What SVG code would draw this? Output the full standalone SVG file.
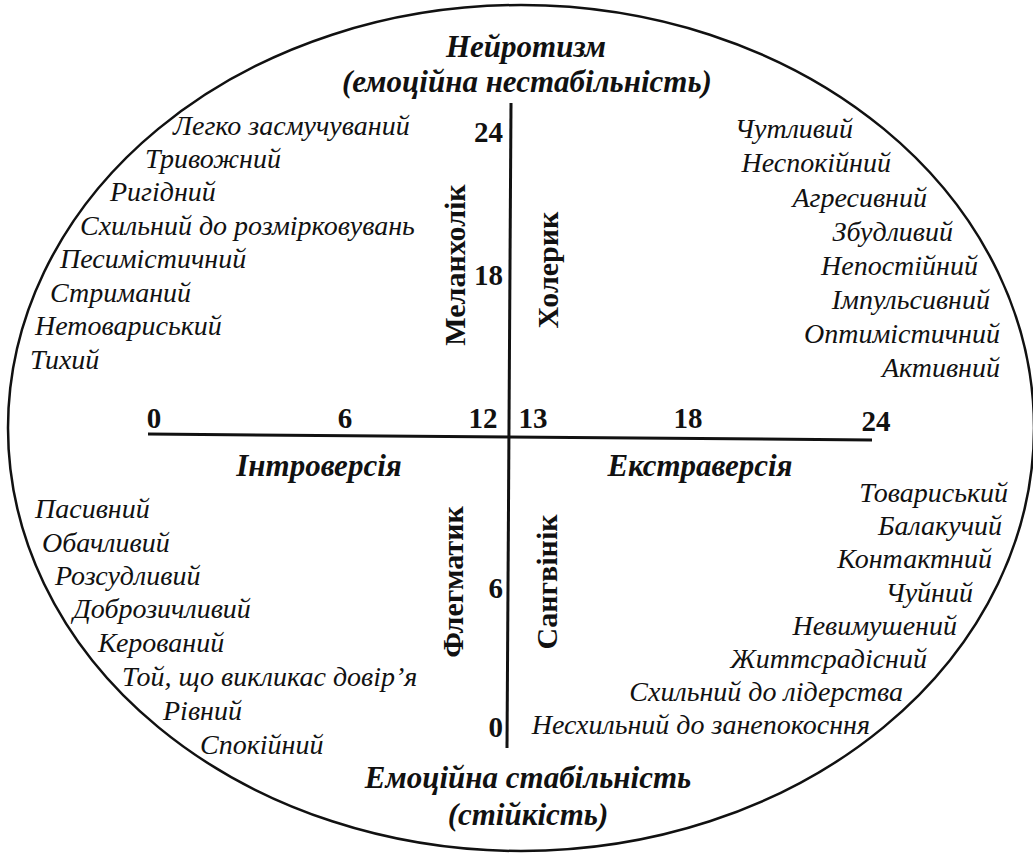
<svg xmlns="http://www.w3.org/2000/svg" width="1033" height="854" viewBox="0 0 1033 854">
<style>
.t{font-family:"Liberation Serif","Times New Roman",serif;font-style:italic;font-size:28px;fill:#111}
.h{font-family:"Liberation Serif","Times New Roman",serif;font-style:italic;font-weight:bold;font-size:31px;fill:#111;text-anchor:middle}
.n{font-family:"Liberation Serif","Times New Roman",serif;font-weight:bold;font-size:29px;fill:#111;text-anchor:middle}
.v{font-family:"Liberation Serif","Times New Roman",serif;font-weight:bold;font-size:30px;fill:#111;text-anchor:middle}
.e{text-anchor:end}
.ln{stroke:#111;stroke-width:3;fill:none}
</style>
<rect width="1033" height="854" fill="#fff"/>
<g id="connectors">
<ellipse cx="521" cy="428" rx="513" ry="423" fill="none" stroke="#111" stroke-width="2.5"/>
<line class="ln" x1="148" y1="434" x2="872" y2="440"/>
<line class="ln" x1="511" y1="103" x2="507" y2="748"/>
</g>
<g id="titles">
<text class="h" x="526" y="57">Нейротизм</text>
<text class="h" x="527" y="92">(емоційна нестабільність)</text>
<text class="h" x="528" y="788">Емоційна стабільність</text>
<text class="h" x="528" y="825">(стійкість)</text>
<text class="h" x="319" y="476">Інтроверсія</text>
<text class="h" x="700" y="476">Екстраверсія</text>
</g>
<g id="scale">
<text class="n" x="154" y="428">0</text>
<text class="n" x="345" y="428">6</text>
<text class="n" x="483" y="428">12</text>
<text class="n" x="533" y="428">13</text>
<text class="n" x="688" y="428">18</text>
<text class="n" x="876" y="431">24</text>
<text class="n e" x="503" y="142">24</text>
<text class="n e" x="503" y="285">18</text>
<text class="n e" x="503" y="598">6</text>
<text class="n e" x="503" y="737">0</text>
</g>
<g id="types">
<text class="v" transform="translate(465,265) rotate(-90)">Меланхолік</text>
<text class="v" transform="translate(558,270) rotate(-90)">Холерик</text>
<text class="v" transform="translate(463,582) rotate(-90)">Флегматик</text>
<text class="v" transform="translate(557,582) rotate(-90)">Сангвінік</text>
</g>
<g id="melancholic">
<text class="t" x="173" y="135">Легко засмучуваний</text>
<text class="t" x="145" y="168">Тривожний</text>
<text class="t" x="110" y="201">Ригідний</text>
<text class="t" x="80" y="235">Схильний до розмірковувань</text>
<text class="t" x="60" y="268">Песимістичний</text>
<text class="t" x="50" y="302">Стриманий</text>
<text class="t" x="35" y="335">Нетовариський</text>
<text class="t" x="30" y="369">Тихий</text>
</g>
<g id="choleric">
<text class="t e" x="853" y="138">Чутливий</text>
<text class="t e" x="891" y="172">Неспокійний</text>
<text class="t e" x="927" y="207">Агресивний</text>
<text class="t e" x="953" y="241">Збудливий</text>
<text class="t e" x="978" y="275">Непостійний</text>
<text class="t e" x="990" y="309">Імпульсивний</text>
<text class="t e" x="1000" y="343">Оптимістичний</text>
<text class="t e" x="1000" y="377">Активний</text>
</g>
<g id="phlegmatic">
<text class="t" x="35" y="518">Пасивний</text>
<text class="t" x="42" y="552">Обачливий</text>
<text class="t" x="55" y="585">Розсудливий</text>
<text class="t" x="73" y="618">Доброзичливий</text>
<text class="t" x="98" y="652">Керований</text>
<text class="t" x="122" y="686">Той, що викликас довір’я</text>
<text class="t" x="163" y="720">Рівний</text>
<text class="t" x="200" y="754">Спокійний</text>
</g>
<g id="sanguine">
<text class="t e" x="1008" y="502">Товариський</text>
<text class="t e" x="1002" y="535">Балакучий</text>
<text class="t e" x="992" y="568">Контактний</text>
<text class="t e" x="973" y="602">Чуйний</text>
<text class="t e" x="957" y="635">Невимушений</text>
<text class="t e" x="927" y="668">Життсрадісний</text>
<text class="t e" x="903" y="701">Схильний до лідерства</text>
<text class="t e" x="870" y="734">Несхильний до занепокосння</text>
</g>
</svg>
